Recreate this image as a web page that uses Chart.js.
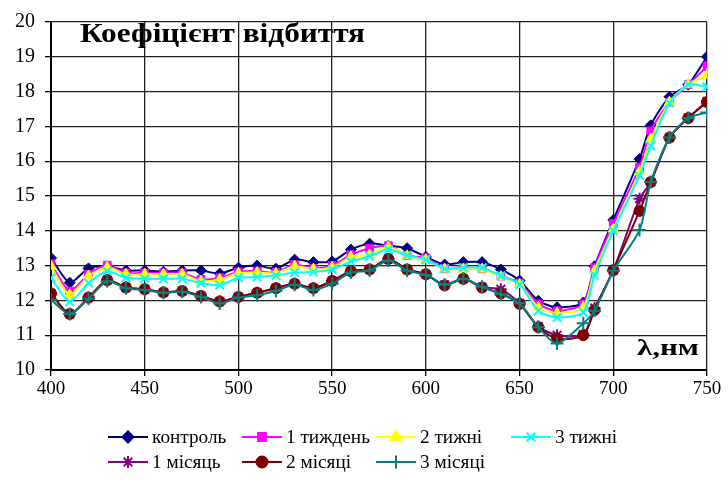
<!DOCTYPE html>
<html>
<head>
<meta charset="utf-8">
<script src="https://cdn.jsdelivr.net/npm/chart.js@4"></script>
<style>
html,body{margin:0;padding:0;background:#fff;}
#wrap{width:728px;height:480px;}
</style>
</head>
<body>
<div id="wrap"><canvas id="c" width="728" height="480"></canvas></div>
<script>
const wavelengths = [400,410,420,430,440,450,460,470,480,490,500,510,520,530,540,550,560,570,580,590,600,610,620,630,640,650,660,670,684,690,700,714,720,730,740,750];
const control   = [13.22,12.51,12.92,12.98,12.86,12.86,12.82,12.86,12.86,12.77,12.94,13.00,12.91,13.17,13.10,13.12,13.46,13.63,13.57,13.50,13.25,13.03,13.10,13.10,12.89,12.57,11.99,11.80,11.94,12.98,14.31,16.06,17.03,17.85,18.20,19.00];
const week1     = [13.05,12.27,12.75,13.01,12.79,12.79,12.79,12.79,12.60,12.65,12.82,12.84,12.80,13.03,12.92,13.00,13.31,13.50,13.57,13.29,13.22,12.91,12.94,12.91,12.70,12.50,11.90,11.70,11.90,12.94,14.21,15.82,16.87,17.70,18.20,18.72];
const weeks2    = [12.98,12.16,12.70,12.95,12.75,12.75,12.75,12.75,12.55,12.60,12.78,12.80,12.78,12.98,12.90,12.95,13.25,13.31,13.54,13.28,13.17,12.90,12.90,12.90,12.68,12.46,11.80,11.63,11.80,12.85,14.05,15.70,16.63,17.70,18.20,18.47];
const weeks3    = [12.65,11.96,12.50,12.84,12.65,12.62,12.62,12.62,12.50,12.44,12.65,12.67,12.72,12.80,12.82,12.89,13.12,13.27,13.46,13.29,13.17,12.91,12.94,12.94,12.71,12.46,11.70,11.51,11.66,12.72,14.00,15.59,16.44,17.67,18.20,18.14];
const month1    = [12.20,11.61,12.08,12.58,12.37,12.32,12.23,12.27,12.13,11.97,12.10,12.22,12.35,12.48,12.35,12.56,12.84,12.89,13.19,12.89,12.75,12.45,12.62,12.38,12.32,11.92,11.25,11.00,11.02,11.78,12.86,14.92,15.40,16.68,17.25,17.72];
const months2   = [12.20,11.61,12.08,12.58,12.37,12.32,12.23,12.27,12.13,11.97,12.10,12.22,12.35,12.48,12.35,12.56,12.84,12.89,13.19,12.89,12.75,12.43,12.62,12.37,12.20,11.90,11.23,10.90,11.00,11.72,12.87,14.57,15.40,16.68,17.24,17.70];
const months3   = [12.02,11.61,12.05,12.55,12.35,12.30,12.22,12.25,12.10,11.91,12.08,12.15,12.27,12.45,12.30,12.48,12.80,12.86,13.15,12.86,12.73,12.45,12.62,12.39,12.18,11.92,11.23,10.76,11.34,11.70,12.85,14.02,15.40,16.68,17.24,17.40];
const seriesNames = ['контроль','1 тиждень','2 тижні','3 тижні','1 місяць','2 місяці','3 місяці'];
const yTicks = [10,11,12,13,14,15,16,17,18,19,20];
const xTicks = [400,450,500,550,600,650,700,750];
const chartTitle = 'Коефіцієнт відбиття';
const axisLabel = 'λ,нм';

const allSeries = [control, week1, weeks2, weeks3, month1, months2, months3];
const colors = ['#000080','#FF00FF','#FFFF00','#00FFFF','#800080','#800000','#008080'];
const styles = ['rectRot','rect','triangle','crossRot','star','circle','cross'];
const radii = [5.5,5.5,6,6,6,5.5,6.5];

const datasets = allSeries.map((vals, i) => ({
  label: seriesNames[i],
  data: vals.map((v, j) => ({x: wavelengths[j], y: v})),
  borderColor: colors[i],
  backgroundColor: colors[i],
  pointBackgroundColor: colors[i],
  pointBorderColor: colors[i],
  pointStyle: styles[i],
  pointRadius: radii[i],
  pointBorderWidth: (styles[i]==='crossRot'||styles[i]==='star'||styles[i]==='cross') ? 2 : 1,
  borderWidth: 2,
  tension: 0.25,
  order: 6 - i,
  fill: false
}));

const FONT = '"Liberation Serif", "Times New Roman", serif';
const legendCols = [108, 242, 376, 511];
const legendRows = [437, 462];

function stretchedText(ctx, text, x, y, targetWidth) {
  const w = ctx.measureText(text).width;
  const s = targetWidth / w;
  ctx.save();
  ctx.translate(x, y);
  ctx.scale(s, 1);
  ctx.fillText(text, 0, 0);
  ctx.restore();
}

const extras = {
  id: 'extras',
  afterDraw(chart) {
    const ctx = chart.ctx;
    ctx.save();
    ctx.fillStyle = '#000';
    ctx.textBaseline = 'middle';
    ctx.textAlign = 'left';
    ctx.font = 'bold 27px ' + FONT;
    stretchedText(ctx, chartTitle, 80, 35, 285);
    ctx.font = 'bold 24px ' + FONT;
    stretchedText(ctx, axisLabel, 637, 349, 62);
    // legend
    ctx.font = '18px ' + FONT;
    seriesNames.forEach((name, i) => {
      const col = i < 4 ? i : i - 4;
      const row = i < 4 ? 0 : 1;
      const x0 = legendCols[col];
      const y0 = legendRows[row];
      ctx.strokeStyle = colors[i];
      ctx.lineWidth = 2;
      ctx.beginPath();
      ctx.moveTo(x0, y0);
      ctx.lineTo(x0 + 40, y0);
      ctx.stroke();
      ctx.fillStyle = colors[i];
      Chart.helpers.drawPoint(ctx, {pointStyle: styles[i], radius: radii[i], rotation: 0, borderWidth: (i===3||i===4||i===6)?1.5:1}, x0 + 20, y0);
      ctx.fillStyle = '#000';
      const w = ctx.measureText(name).width;
      stretchedText(ctx, name, x0 + 44, y0 + 1, w * 1.07);
    });
    ctx.restore();
  }
};

new Chart(document.getElementById('c'), {
  type: 'line',
  data: { datasets },
  options: {
    responsive: false,
    animation: false,
    layout: { padding: { left: 0, right: 21, top: 18, bottom: 0 } },
    plugins: { legend: { display: false }, tooltip: { enabled: false }, title: { display: false } },
    scales: {
      x: {
        type: 'linear',
        min: 400, max: 750,
        afterBuildTicks(scale) { scale.ticks = xTicks.map(v => ({value: v})); },
        afterFit(scale) { scale.height = 110; },
        ticks: { color: '#000', font: { family: FONT, size: 19 }, padding: 2, maxRotation: 0 },
        grid: { color: '#222', lineWidth: 1.3, tickLength: 6, tickColor: '#000' },
        border: { display: true, color: '#000', width: 2 }
      },
      y: {
        min: 10, max: 20,
        afterBuildTicks(scale) { scale.ticks = yTicks.map(v => ({value: v})); },
        afterFit(scale) { scale.width = 51; },
        ticks: { color: '#000', font: { family: FONT, size: 20 }, padding: 10 },
        grid: { color: '#222', lineWidth: 1.3, tickLength: 6, tickColor: '#000' },
        border: { display: true, color: '#000', width: 2 }
      }
    }
  },
  plugins: [extras]
});
</script>
</body>
</html>
